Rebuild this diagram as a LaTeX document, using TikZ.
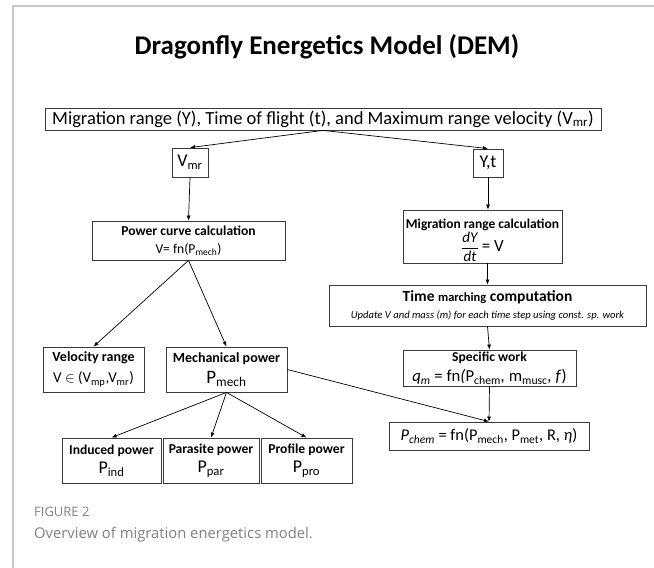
\documentclass[tikz,border=0pt]{standalone}
\usepackage{fontspec}
\setmainfont{Carlito}
\newfontfamily\capfont{Open Sans}
\usetikzlibrary{arrows.meta,calc}
\definecolor{frame}{HTML}{C8C8C8}
\definecolor{capgray}{HTML}{808080}
\definecolor{boxline}{HTML}{3A3A3A}
\tikzset{
  box/.style={draw=boxline, line width=0.8pt, inner sep=0pt, align=center, fill=white},
  arr/.style={-{Latex[length=5pt,width=4pt]}, line width=0.7pt, black},
}
\newcommand{\fs}[1]{\fontsize{#1}{#1}\selectfont}
\newcommand{\fsb}[2]{\fontsize{#1}{#2}\selectfont}
\begin{document}
\begin{tikzpicture}[x=1pt,y=-1pt]
\useasboundingbox (0,0) rectangle (654,568);
\draw[frame, line width=1.3pt] (13,568) -- (13,6) -- (654,6);

\node (title) at (327,47) {\fs{27}\bfseries Dragonfly Energetics Model (DEM)};

\node[box, minimum width=556pt, minimum height=22pt, font=\fs{18.5}] (top) at (323,119)
  {Migration range (Y), Time of flight (t), and Maximum range velocity (V\textsubscript{mr})};

\node[box, minimum width=36pt, minimum height=29pt, font=\fs{18}] (vmr) at (190,162.5) {V\textsubscript{mr}};
\node[box, minimum width=30pt, minimum height=28pt, font=\fs{18}] (yt) at (488,163) {Y,t};

\node[box, minimum width=193pt, minimum height=39pt, font=\fsb{13.6}{18}] (pcc) at (188.5,240.5)
  {\textbf{Power curve calculation}\\ V= fn(P\textsubscript{mech})};

\node[box, minimum width=159pt, minimum height=53pt] (mrc) at (482.5,236.5) {};
\node[align=center, inner sep=0pt, font=\fsb{13.5}{23}] (mrctext) at ($(mrc.center)+(0,4)$)
  {\textbf{Migration range calculation}\\ $\displaystyle\frac{\mbox{\fs{15}\itshape dY}}{\mbox{\fs{15}\itshape dt}}$ {\fs{17}= V}};

\node[box, minimum width=317pt, minimum height=41pt, font=\fsb{15.5}{17}] (tmc) at (487.5,305.5)
  {\textbf{Time {\fs{12.5}marching} computation}\\ {\fs{10.6}\itshape Update V and mass (m) for each time step using const. sp. work}};

\node[box, minimum width=173pt, minimum height=36pt, font=\fsb{13.6}{20}] (sw) at (489.5,368)
  {\textbf{Specific work}\\ {\fs{16.7}\textit{q\textsubscript{m}} = fn\textit{(}P\textsubscript{chem}\textit{,} m\textsubscript{musc}\textit{,} \textit{f})}};

\node[box, minimum width=101pt, minimum height=45pt, font=\fsb{14}{21}] (vr) at (93.5,369.5)
  {\textbf{Velocity range}\\ {\fs{15}V $\in$ (V\textsubscript{mp},V\textsubscript{mr})}};

\node[box, minimum width=121pt, minimum height=45pt, font=\fsb{14}{21}] (mp) at (226.5,369.5)
  {\textbf{Mechanical power}\\ {\fs{19}P\textsubscript{mech}}};

\node[box, minimum width=99pt, minimum height=45pt, font=\fsb{13.6}{19}] (ind) at (111.5,460.5)
  {\textbf{Induced power}\\ {\fs{18}P\textsubscript{ind}}};
\node[box, minimum width=96pt, minimum height=45pt, font=\fsb{13.6}{19}] (par) at (211,460.5)
  {\textbf{Parasite power}\\ {\fs{18}P\textsubscript{par}}};
\node[box, minimum width=91pt, minimum height=45pt, font=\fsb{13.6}{19}] (pro) at (306.5,460.5)
  {\textbf{Profile power}\\ {\fs{18}P\textsubscript{pro}}};

\node[box, minimum width=200pt, minimum height=28pt, font=\fs{16.4}] (pchem) at (489,436)
  {\textit{P\textsubscript{chem}} = fn(P\textsubscript{mech}, P\textsubscript{met}, R, \textit{η})};

\draw[arr] (top.south) -- (vmr.north);
\draw[arr] (top.south) -- (yt.north);
\draw[arr] (vmr.south) -- (pcc.north);
\draw[arr] (yt.south) -- (mrc.north -| yt.south);
\draw[arr] (pcc.south) -- (vr.north);
\draw[arr] (pcc.south) -- (mp.north);
\draw[arr] (mp.south) -- (ind.north);
\draw[arr] (mp.south) -- (par.north);
\draw[arr] (mp.south) -- (pro.north);
\draw[arr] (mrc.south -| tmc.north) -- (tmc.north);
\draw[arr] (tmc.south) -- (sw.north);
\draw[arr] (sw.south) -- (pchem.north);
\draw[arr] (mp.east) -- (pchem.north);

\node[anchor=west, text=capgray, inner sep=0pt] (figlabel) at (34,512) {\capfont\fs{13}FIGURE 2};
\node[anchor=west, text=capgray, inner sep=0pt] (caption) at (34,535) {\capfont\fs{14.8}Overview of migration energetics model.};
\end{tikzpicture}
\end{document}
